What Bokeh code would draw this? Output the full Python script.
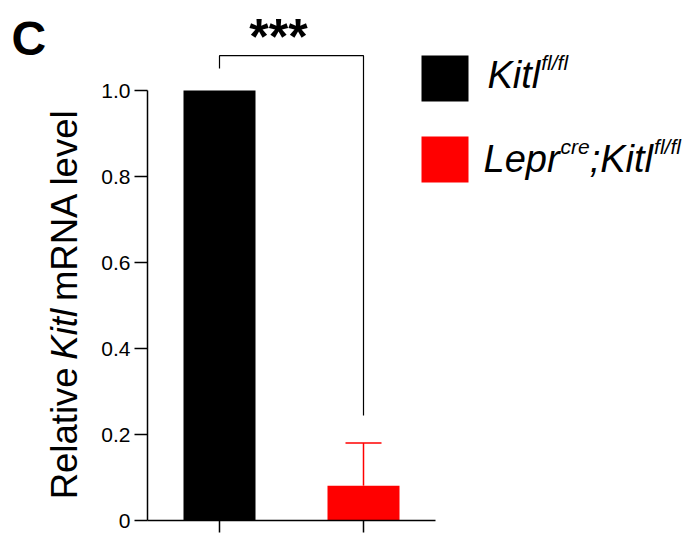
import math
from bokeh.plotting import figure
from bokeh.layouts import row
from bokeh.models import Range1d, FixedTicker, Label, ColumnDataSource
from bokeh.embed import file_html
from bokeh.resources import INLINE

# ---------------- data ----------------
groups = ["Kitl fl/fl", "Lepr cre;Kitl fl/fl"]
x_pos = [1, 2]
means = [1.0, 0.081]
errors = [0.0, 0.099]
bar_colors = ["#000000", "#ff0000"]
y_ticks = [0, 0.2, 0.4, 0.6, 0.8, 1.0]
y_tick_labels = ["0", "0.2", "0.4", "0.6", "0.8", "1.0"]
sig_text = "***"
bracket_top = 1.081
bracket_left_bottom = 1.051
bracket_right_bottom = 0.244
panel_letter = "C"
ylabel_parts = [("Relative", "normal"), ("Kitl", "italic"), ("mRNA level", "normal")]
legend_parts = [
    [("Kitl", False), ("fl/fl", True)],
    [("Lepr", False), ("cre", True), (";Kitl", False), ("fl/fl", True)],
]

# ---------------- layout helpers ----------------
FONT = "Liberation Sans"
TOTAL_W, TOTAL_H = 687, 540
LEFT_W = 95                 # narrow figure holding panel letter + y label
MAIN_W = TOTAL_W - LEFT_W
FRAME_LEFT_PAGE = 147
Y0_PAGE = 520
MB_LEFT = FRAME_LEFT_PAGE - LEFT_W
MB_BOTTOM = TOTAL_H - Y0_PAGE
PXX = 144.0   # px per x unit
PXY = 430.0   # px per y unit
X0 = 0.5
SHIFT = 14.5  # compensation for label baseline placement

def dx(px):
    return X0 + (px - FRAME_LEFT_PAGE) / PXX

def dy(py):
    return (Y0_PAGE - py) / PXY

W = {"R": 722, "e": 556, "l": 222, "a": 556, "t": 278, "i": 222, "v": 500,
     "K": 667, "m": 833, "N": 722, "A": 667, " ": 278, "L": 556, "p": 556,
     "r": 333, "c": 500, ";": 278, "f": 278, "/": 278}

def tw(s, size):
    return sum(W.get(ch, 556) for ch in s) / 1000.0 * size

# ---------------- left strip (page coordinates) ----------------
lf = figure(width=LEFT_W, height=TOTAL_H, x_range=Range1d(0, LEFT_W),
            y_range=Range1d(TOTAL_H, 0), output_backend="svg",
            toolbar_location=None, x_axis_location=None, y_axis_location=None,
            min_border_left=0, min_border_right=0, min_border_top=0,
            min_border_bottom=0)
lf.xgrid.visible = False
lf.ygrid.visible = False
lf.outline_line_color = None
lf.background_fill_color = "white"
lf.border_fill_color = "white"

lf.add_layout(Label(x=11, y=54 - SHIFT, text=panel_letter, text_font=FONT,
                    text_font_size="48px", text_font_style="bold",
                    text_align="left", text_baseline="alphabetic", text_color="black"))

YL_SIZE = 36.5
ypos = 518.0
for txt, style in ylabel_parts:
    pad = 3 if style == "italic" else 0
    ypos -= pad
    lf.add_layout(Label(x=78 - SHIFT, y=ypos, text=txt, text_font=FONT,
                        text_font_size=f"{YL_SIZE}px", text_font_style=style,
                        angle=math.pi / 2, text_align="left",
                        text_baseline="alphabetic", text_color="black"))
    ypos -= tw(txt, YL_SIZE) + tw(" ", YL_SIZE)

# ---------------- main chart ----------------
p = figure(width=MAIN_W, height=TOTAL_H,
           x_range=Range1d(X0, X0 + (MAIN_W - MB_LEFT) / PXX),
           y_range=Range1d(0, (TOTAL_H - MB_BOTTOM) / PXY),
           output_backend="svg", toolbar_location=None,
           min_border_left=MB_LEFT, min_border_right=0,
           min_border_top=0, min_border_bottom=MB_BOTTOM)
p.xgrid.visible = False
p.ygrid.visible = False
p.outline_line_color = None
p.background_fill_color = "white"
p.border_fill_color = "white"

ya = p.yaxis[0]
ya.ticker = FixedTicker(ticks=y_ticks)
ya.major_label_overrides = {t: l for t, l in zip(y_ticks, y_tick_labels)}
ya.bounds = (0, 1.0)
ya.axis_line_width = 1.5
ya.axis_line_color = "black"
ya.major_tick_line_width = 1.5
ya.major_tick_line_color = "black"
ya.major_tick_out = 13
ya.major_tick_in = 0
ya.minor_tick_line_color = None
ya.major_label_text_font = FONT
ya.major_label_text_font_size = "21px"
ya.major_label_text_color = "black"
ya.major_label_standoff = 4

xa = p.xaxis[0]
xa.ticker = FixedTicker(ticks=x_pos)
xa.bounds = (0.5, 2.5)
xa.axis_line_width = 1.5
xa.axis_line_color = "black"
xa.major_tick_line_width = 1.5
xa.major_tick_line_color = "black"
xa.major_tick_out = 12
xa.major_tick_in = 0
xa.minor_tick_line_color = None
xa.major_label_text_font_size = "0px"
xa.major_label_standoff = 0
xa.major_label_overrides = {x: "" for x in x_pos}

src = ColumnDataSource(dict(x=x_pos, top=means, color=bar_colors, group=groups))
p.vbar(x="x", top="top", bottom=0, width=0.5, fill_color="color", line_color=None, source=src)

# error bars (upper only)
ex = [x for x, e in zip(x_pos, errors) if e > 0]
em = [m for m, e in zip(means, errors) if e > 0]
eu = [m + e for m, e in zip(means, errors) if e > 0]
ec = [c for c, e in zip(bar_colors, errors) if e > 0]
cap = 0.125
p.segment(x0=ex, y0=em, x1=ex, y1=eu, line_color=ec, line_width=1.5)
p.segment(x0=[x - cap for x in ex], y0=eu, x1=[x + cap for x in ex], y1=eu,
          line_color=ec, line_width=1.5)

# significance bracket
p.line(x=[x_pos[0], x_pos[0], x_pos[1], x_pos[1]],
       y=[bracket_left_bottom, bracket_top, bracket_top, bracket_right_bottom],
       line_color="black", line_width=1.2)
p.add_layout(Label(x=dx(278), y=dy(51 - SHIFT), text=sig_text, text_font=FONT,
                   text_font_size="50px", text_font_style="bold",
                   text_align="center", text_baseline="alphabetic", text_color="black"))

# legend
LG_SIZE = 38
SUP_SIZE = 21
sw_y = [78, 159]
base_y = [89, 173]
start_x = [487, 483]
p.rect(x=[dx(444.5)] * 2, y=[dy(v) for v in sw_y], width=47, height=46,
       width_units="screen", height_units="screen",
       fill_color=bar_colors, line_color=None)
for parts, by, sx in zip(legend_parts, base_y, start_x):
    xpos = float(sx)
    for txt, sup in parts:
        size = SUP_SIZE if sup else LG_SIZE
        yy = by - 12.5 if sup else by
        p.add_layout(Label(x=dx(xpos), y=dy(yy - SHIFT), text=txt, text_font=FONT,
                           text_font_size=f"{size}px", text_font_style="italic",
                           text_align="left", text_baseline="alphabetic",
                           text_color="black"))
        xpos += tw(txt, size) + (1 if not sup else 0)

layout = row(lf, p)
open("out.html", "w").write(file_html(layout, INLINE))
